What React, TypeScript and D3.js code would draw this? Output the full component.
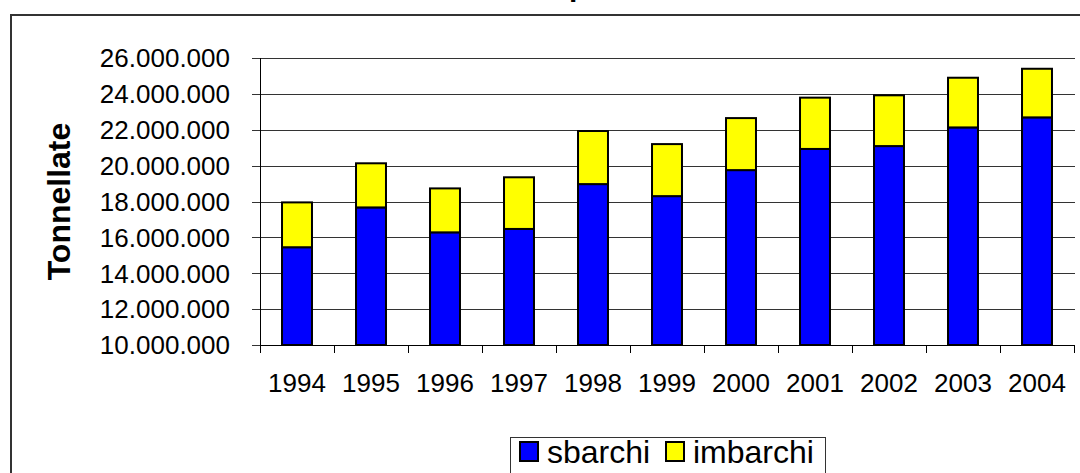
import React, { useEffect, useRef } from "react";
import * as d3 from "d3";

// anni e tonnellate
const years = ["1994", "1995", "1996", "1997", "1998", "1999", "2000", "2001", "2002", "2003", "2004"];
const sbarchi = [15450000, 17670000, 16280000, 16470000, 18970000, 18300000, 19750000, 20930000, 21090000, 22130000, 22690000];
const imbarchi = [2500000, 2460000, 2450000, 2880000, 2960000, 2900000, 2900000, 2860000, 2830000, 2770000, 2710000];
const yTicks = [10000000, 12000000, 14000000, 16000000, 18000000, 20000000, 22000000, 24000000, 26000000];
const seriesNames = ["sbarchi", "imbarchi"];
const seriesColors = ["#0000ff", "#ffff00"];

const itLocale = d3.formatLocale({ decimal: ",", thousands: ".", grouping: [3], currency: ["€", ""] });
const fmt = itLocale.format(",");

const App = () => {
  const svgRef = useRef<SVGSVGElement>(null);

  useEffect(() => {
    const svg = d3.select(svgRef.current);
    svg.selectAll("*").remove();

    const W = 1080;
    const H = 473;
    const plot = { left: 260, right: 1074, top: 58, bottom: 345 };
    const font = "'Liberation Sans', Arial, sans-serif";

    svg.attr("width", W).attr("height", H);

    // cornice esterna (esce dalla pagina a destra e in basso)
    svg
      .append("rect")
      .attr("x", 11)
      .attr("y", 15)
      .attr("width", 1200)
      .attr("height", 600)
      .attr("fill", "#fff")
      .attr("stroke", "#333")
      .attr("stroke-width", 2);

    // titolo tagliato in alto, si vede solo la coda della "p"
    svg
      .append("text")
      .attr("x", 569)
      .attr("y", -4)
      .attr("font-family", font)
      .attr("font-weight", "bold")
      .attr("font-size", 30)
      .text("p");

    const x = d3.scaleBand().domain(years).range([plot.left, plot.right]).padding(0);
    const barW = x.bandwidth() * 0.405;
    const y = d3.scaleLinear().domain([10000000, 26000000]).range([plot.bottom, plot.top]);

    // griglia
    svg
      .append("g")
      .selectAll("line")
      .data(yTicks)
      .enter()
      .append("line")
      .attr("x1", plot.left - 8)
      .attr("x2", plot.right + 1)
      .attr("y1", (d) => Math.round(y(d)) + 0.5)
      .attr("y2", (d) => Math.round(y(d)) + 0.5)
      .attr("stroke", "#333")
      .attr("stroke-width", 1);

    // etichette asse y
    svg
      .append("g")
      .selectAll("text")
      .data(yTicks)
      .enter()
      .append("text")
      .attr("x", plot.left - 30)
      .attr("y", (d) => y(d))
      .attr("dy", "0.36em")
      .attr("text-anchor", "end")
      .attr("font-family", font)
      .attr("font-size", 26)
      .text((d) => fmt(d));

    // barre impilate
    const rows = years.map((yr, i) => ({ yr, s: sbarchi[i], im: imbarchi[i] }));
    const bars = svg.append("g");
    bars
      .selectAll(".sb")
      .data(rows)
      .enter()
      .append("rect")
      .attr("x", (d) => x(d.yr)! + (x.bandwidth() - barW) / 2)
      .attr("y", (d) => y(d.s))
      .attr("width", barW)
      .attr("height", (d) => y(10000000) - y(d.s))
      .attr("fill", seriesColors[0])
      .attr("stroke", "#000")
      .attr("stroke-width", 2);
    bars
      .selectAll(".im")
      .data(rows)
      .enter()
      .append("rect")
      .attr("x", (d) => x(d.yr)! + (x.bandwidth() - barW) / 2)
      .attr("y", (d) => y(d.s + d.im))
      .attr("width", barW)
      .attr("height", (d) => y(d.s) - y(d.s + d.im))
      .attr("fill", seriesColors[1])
      .attr("stroke", "#000")
      .attr("stroke-width", 2);

    // assi
    svg
      .append("line")
      .attr("x1", plot.left + 0.5)
      .attr("x2", plot.left + 0.5)
      .attr("y1", plot.top)
      .attr("y2", plot.bottom + 8)
      .attr("stroke", "#000");
    svg
      .append("line")
      .attr("x1", plot.left)
      .attr("x2", plot.right + 1)
      .attr("y1", Math.round(y(10000000)) + 0.5)
      .attr("y2", Math.round(y(10000000)) + 0.5)
      .attr("stroke", "#000");
    const bounds = years.map((yr) => x(yr)!).concat([plot.right]);
    svg
      .append("g")
      .selectAll("line")
      .data(bounds)
      .enter()
      .append("line")
      .attr("x1", (d) => Math.round(d) + 0.5)
      .attr("x2", (d) => Math.round(d) + 0.5)
      .attr("y1", plot.bottom)
      .attr("y2", plot.bottom + 8)
      .attr("stroke", "#000");

    // anni
    svg
      .append("g")
      .selectAll("text")
      .data(years)
      .enter()
      .append("text")
      .attr("x", (d) => x(d)! + x.bandwidth() / 2)
      .attr("y", 392)
      .attr("text-anchor", "middle")
      .attr("font-family", font)
      .attr("font-size", 26)
      .text((d) => d);

    // titolo asse y
    svg
      .append("text")
      .attr("transform", `translate(70, ${(plot.top + plot.bottom) / 2}) rotate(-90)`)
      .attr("text-anchor", "middle")
      .attr("font-family", font)
      .attr("font-weight", "bold")
      .attr("font-size", 32)
      .text("Tonnellate");

    // legenda
    const lg = svg.append("g").attr("transform", "translate(510, 437)");
    lg.append("rect")
      .attr("x", 0.5)
      .attr("y", 0.5)
      .attr("width", 315)
      .attr("height", 80)
      .attr("fill", "#fff")
      .attr("stroke", "#333")
      .attr("stroke-width", 1);
    const itemX = [9, 155];
    const items = lg
      .selectAll(".item")
      .data(seriesNames)
      .enter()
      .append("g")
      .attr("transform", (d, i) => `translate(${itemX[i]}, 0)`);
    items
      .append("rect")
      .attr("x", 1)
      .attr("y", 5)
      .attr("width", 18)
      .attr("height", 19)
      .attr("fill", (d, i) => seriesColors[i])
      .attr("stroke", "#000")
      .attr("stroke-width", 2);
    items
      .append("text")
      .attr("x", 28)
      .attr("y", 26)
      .attr("font-family", font)
      .attr("font-size", 32)
      .text((d) => d);
  }, []);

  return (
    <div style={{ position: "absolute", left: 0, top: 0, width: 1080, height: 473, overflow: "hidden" }}>
      <svg ref={svgRef} style={{ display: "block" }}></svg>
    </div>
  );
};

export default App;
